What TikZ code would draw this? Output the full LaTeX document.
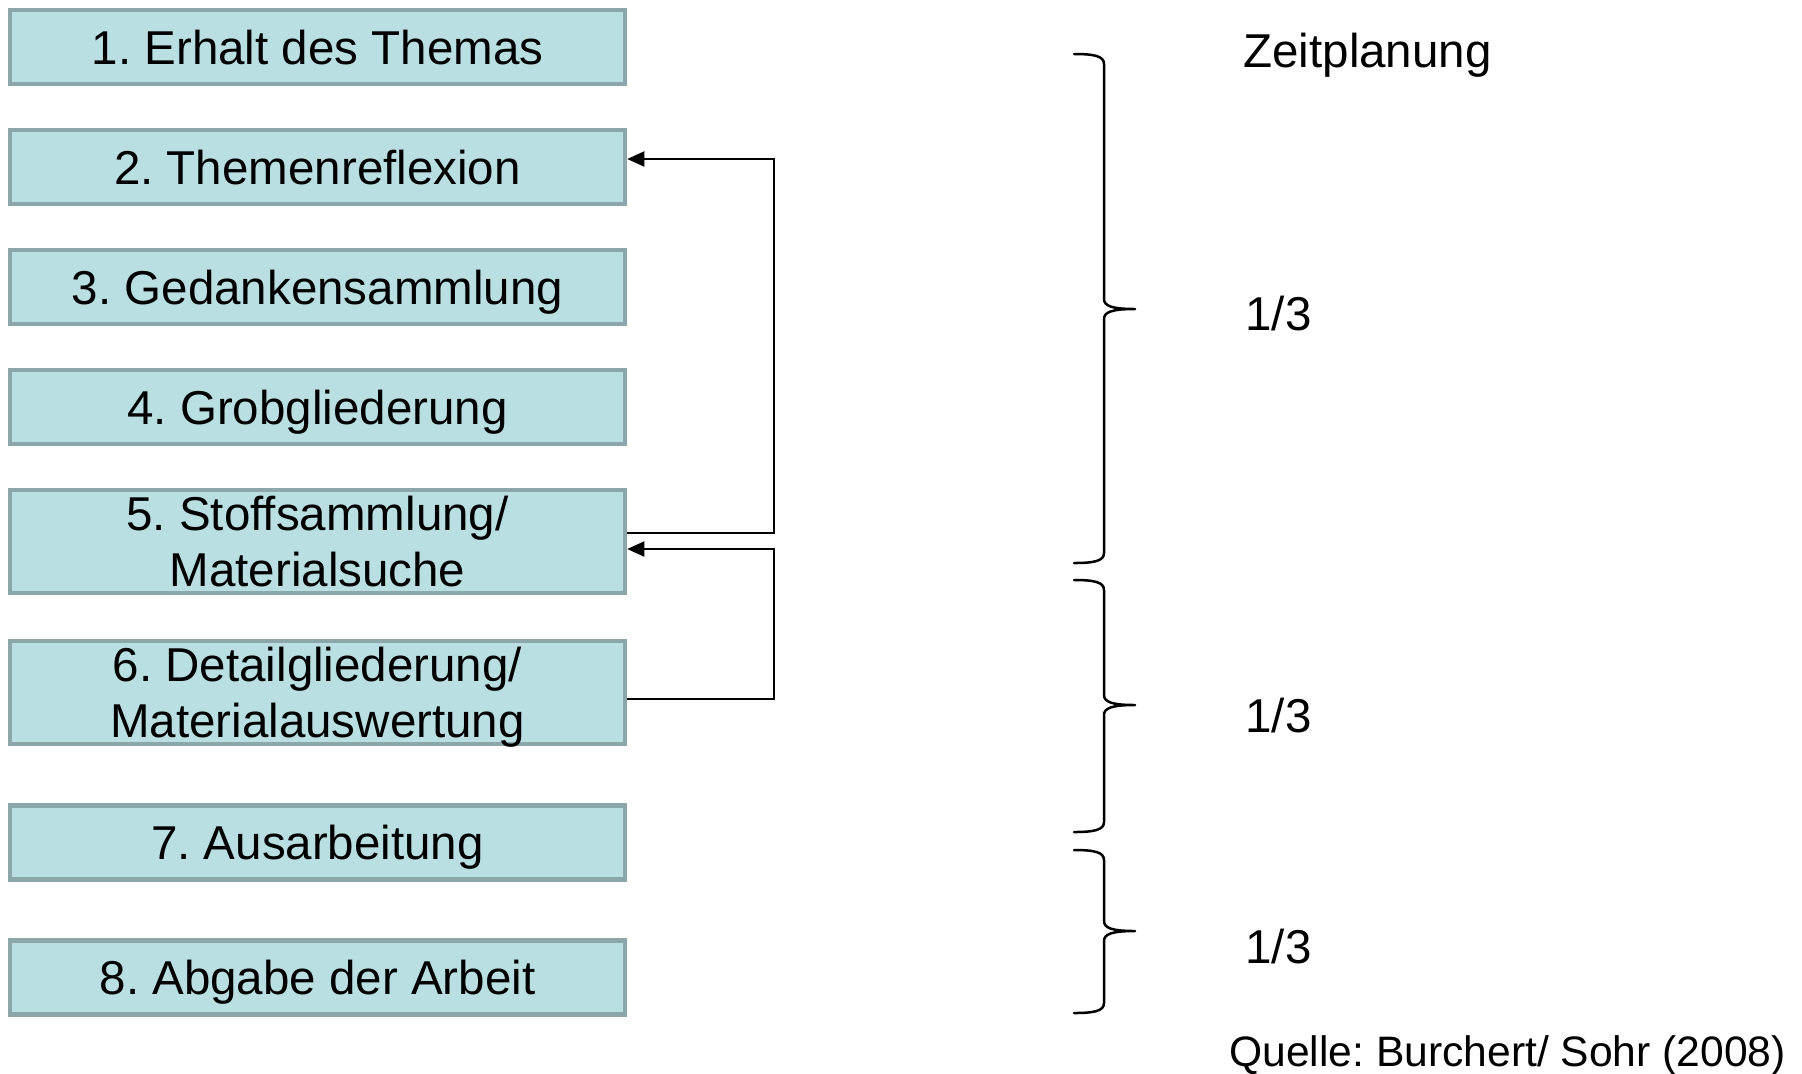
\documentclass[tikz,border=0pt]{standalone}
\usepackage{fontspec}
\setmainfont{Liberation Sans}
\frenchspacing
\usetikzlibrary{arrows.meta}
\definecolor{boxfill}{HTML}{B9DFE2}
\definecolor{boxline}{HTML}{8BA7A9}
\newcommand\boxfont{\fontsize{23.75}{28}\selectfont\frenchspacing}
\newcommand\srcfont{\fontsize{21.3}{25}\selectfont\frenchspacing}
\tikzset{
  stepbox/.style={draw=boxline, fill=boxfill, line width=2.25pt,
    minimum width=307.5pt, minimum height=37pt, inner sep=0pt,
    font=\boxfont, text height=17pt, text depth=0pt, align=center},
  stepboxtwo/.style={stepbox, minimum height=51.5pt, text height=45pt, text depth=0pt},
  conn/.style={line width=1pt, -{Triangle[length=8.5pt,width=7.5pt]}},
  bracepath/.style={line width=1.25pt, line cap=round, line join=round},
  label/.style={font=\boxfont, inner sep=0pt, anchor=base west}
}
\begin{document}
\begin{tikzpicture}[x=0.5pt, y=-0.5pt]
\useasboundingbox (0,0) rectangle (1802,1073);
% step boxes
\node[stepbox]    (b1) at (317.5,47)    {1. Erhalt des Themas};
\node[stepbox]    (b2) at (317.5,167)   {2. Themenreflexion};
\node[stepbox]    (b3) at (317.5,287)   {3. Gedankensammlung};
\node[stepbox]    (b4) at (317.5,407)   {4. Grobgliederung};
\node[stepboxtwo] (b5) at (317.5,541.5) {5. Stoffsammlung/\\Materialsuche};
\node[stepboxtwo] (b6) at (317.5,692.5) {6. Detailgliederung/\\Materialauswertung};
\node[stepbox]    (b7) at (317.5,842.5) {7. Ausarbeitung};
\node[stepbox]    (b8) at (317.5,977.5) {8. Abgabe der Arbeit};
% feedback connectors
\coordinate (j1) at (774,159);
\coordinate (j2) at (774,549);
\draw[conn] ([yshift=4.25pt]b5.east) -| (j1) -- ([yshift=4pt]b2.east);
\draw[conn] ([yshift=-3.25pt]b6.east) -| (j2) -- ([yshift=-3.75pt]b5.east);
% braces
\foreach \yt/\ym/\yb in {54/309/563, 580/705/832, 850/931/1013}{
  \draw[bracepath] (1074,\yt) .. controls (1094,\yt) and (1104,\yt+2) .. (1104,\yt+10)
    -- (1104,\ym-10) .. controls (1104,\ym-3) and (1112,\ym) .. (1135,\ym)
    .. controls (1112,\ym) and (1104,\ym+3) .. (1104,\ym+10)
    -- (1104,\yb-10) .. controls (1104,\yb-2) and (1094,\yb) .. (1074,\yb);
}
% labels
\node[label] (zp) at (1243,67) {Zeitplanung};
\node[label] (t1) at (1245,330) {1/3};
\node[label] (t2) at (1245,732) {1/3};
\node[label] (t3) at (1245,963) {1/3};
\node[label, font=\srcfont] (src) at (1229,1066) {Quelle: Burchert/ Sohr (2008)};
\end{tikzpicture}
\end{document}
